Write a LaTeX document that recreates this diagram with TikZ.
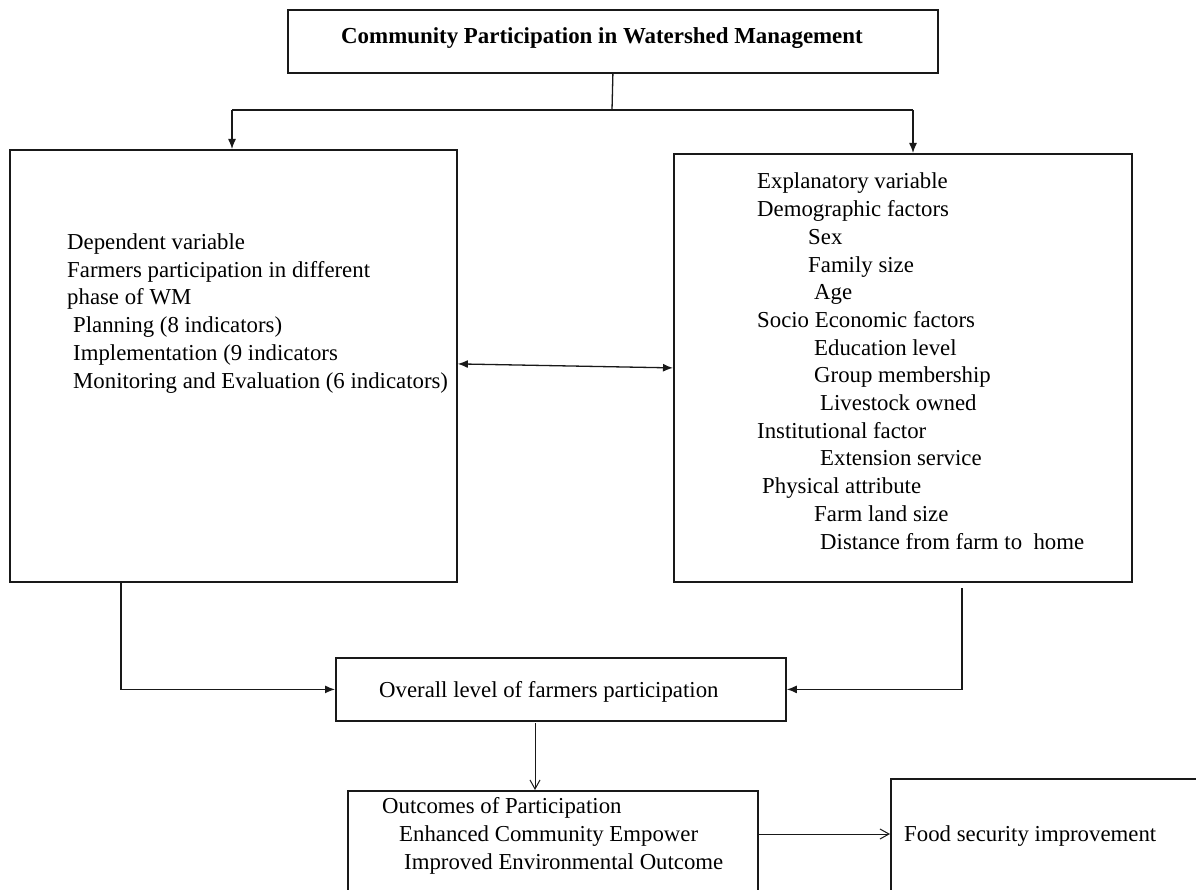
\documentclass[tikz,border=0pt]{standalone}
\usepackage{fontspec}
\setmainfont{Liberation Serif}
\usetikzlibrary{arrows.meta,calc}

\tikzset{
  box/.style={draw=black!90, line width=1.8pt, inner sep=0pt, anchor=north west},
  txt/.style={inner sep=0pt, anchor=base west, align=left,
              font=\fontsize{22.8pt}{27.7pt}\selectfont},
  conn/.style={draw=black!90, line width=1.3pt},
  fillarrow/.style={conn, -{Latex[length=10pt,width=8pt]}},
  bothfill/.style={conn, {Latex[length=10pt,width=8pt]}-{Latex[length=10pt,width=8pt]}},
  openarrow/.style={draw=black!90, line width=1pt, -{Straight Barb[length=9pt,width=10pt]}},
}

\begin{document}
\begin{tikzpicture}[x=1pt,y=-1pt]
\path[use as bounding box, clip] (0,0) rectangle (1196,890);
\fill[white] (0,0) rectangle (1196,890);

% boxes
\node[box, minimum width=650pt, minimum height=63pt]  (top)     at (287,9)   {};
\node[box, minimum width=447pt, minimum height=432pt] (dep)     at (9,149)   {};
\node[box, minimum width=458pt, minimum height=428pt] (expl)    at (673,153) {};
\node[box, minimum width=450pt, minimum height=63pt]  (overall) at (335,657) {};
\node[box, minimum width=410pt, minimum height=150pt] (outc)    at (347,790) {};
\node[box, minimum width=350pt, minimum height=160pt] (food)    at (890,778) {};

% texts (multi-line blocks are placed by the baseline of their last line)
\node[txt, font=\fontsize{22.9pt}{27.7pt}\selectfont\bfseries] (title) at (341,44)
  {Community Participation in Watershed Management};

\node[txt] (deptxt) at (67,388)
  {Dependent variable\\
   Farmers participation in different\\
   phase of WM\\
   \hspace*{6pt}Planning (8 indicators)\\
   \hspace*{6pt}Implementation (9 indicators\\
   \hspace*{6pt}Monitoring and Evaluation (6 indicators)};

\node[txt] (expltxt) at (757,549)
  {Explanatory variable\\
   Demographic factors\\
   \hspace*{51pt}Sex\\
   \hspace*{51pt}Family size\\
   \hspace*{57pt}Age\\
   Socio Economic factors\\
   \hspace*{57pt}Education level\\
   \hspace*{57pt}Group membership\\
   \hspace*{63pt}Livestock owned\\
   Institutional factor\\
   \hspace*{63pt}Extension service\\
   \hspace*{5pt}Physical attribute\\
   \hspace*{57pt}Farm land size\\
   \hspace*{63pt}Distance from farm to\ \ home};

\node[txt] (overalltxt) at (379,697) {Overall level of farmers participation};

\node[txt, font=\fontsize{22.8pt}{28pt}\selectfont] (outctxt) at (382,869)
  {Outcomes of Participation\\
   \hspace*{17pt}Enhanced Community Empower\\
   \hspace*{22pt}Improved Environmental Outcome};

\node[txt] (foodtxt) at (904,841) {Food security improvement};

% connectors from the title box
\coordinate (split) at (612,110);
\coordinate (jl) at (232,110);
\coordinate (jr) at (913,110);
\draw[conn] (top.south) -- (split);
\draw[conn] (jl) -- (jr);
\draw[fillarrow] (jl) -- (jl |- dep.north);
\draw[fillarrow] (jr) -- (jr |- expl.north);

% link between the two variable boxes
\draw[bothfill] ([yshift=2pt]dep.east) -- (expl.west);

% into the overall participation box
\coordinate (lstart) at (121,581);
\coordinate (rstart) at (962,588);
\draw[fillarrow] (lstart) |- (overall.west);
\draw[fillarrow] (rstart) |- (overall.east);

% towards the outcomes
\coordinate (dstart) at (535,723);
\draw[openarrow] (dstart) -- (dstart |- outc.north);
\coordinate (ostart) at ($(outc.north east)+(0,44)$);
\draw[openarrow] (ostart) -- (ostart -| food.west);
\end{tikzpicture}
\end{document}
